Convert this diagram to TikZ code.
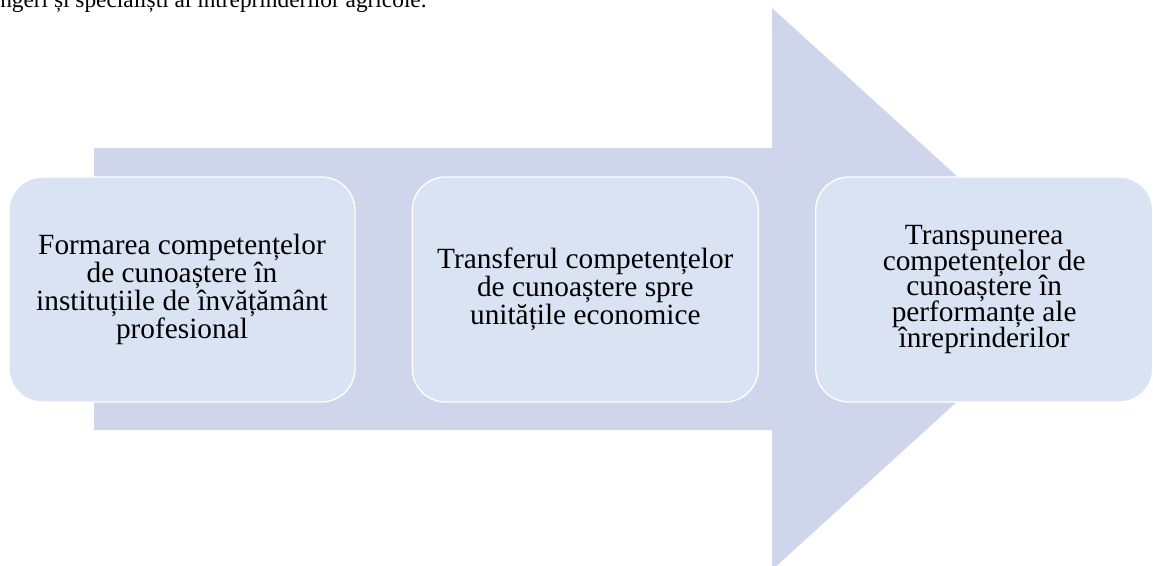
\documentclass[tikz,border=0pt]{standalone}
\usepackage{fontspec}
\setmainfont{Liberation Serif}
\usetikzlibrary{positioning,calc}
\definecolor{arrowfill}{RGB}{207,213,234}
\definecolor{boxfill}{RGB}{218,227,243}
\newcommand{\stagefont}[1]{\fontsize{22}{#1}\selectfont\lineskiplimit=-30pt\relax}
\tikzset{
	stagebox/.style={minimum width=259.5pt,minimum height=168.75pt,rounded corners=25pt,draw=white,line width=1pt,fill=boxfill,align=center,inner sep=0pt,font=\stagefont{21.2}},
}

\begin{document}
\begin{tikzpicture}[x=0.75pt,y=-0.75pt]
		\useasboundingbox (0,0) rectangle (1153,565);
		\node[anchor=base west,inner sep=0pt,font=\fontsize{17.5}{20}\selectfont] (prev) at (0,7) {ngeri și specialiști ai întreprinderilor agricole.};
		% big arrow behind the stages
		\coordinate (tail) at (94,289);
		\coordinate (tip) at (1081,289);
		\fill[arrowfill] ($(tail)+(0,-141)$) -- (772,148) -- (772,8) -- (tip) -- (772,570) -- (772,430) -- ($(tail)+(0,141)$) -- cycle;
		
		\node[stagebox] (form) at (182,289.5) {Formarea competențelor\\de cunoaștere în\\instituțiile de învățământ\\profesional};
		\node[stagebox,right=42pt of form] (transf) {Transferul competențelor\\de cunoaștere spre\\unitățile economice};
		\node[stagebox,minimum width=252.75pt,font=\stagefont{19.3},right=42pt of transf] (transp) {Transpunerea\\competențelor de\\cunoaștere în\\performanțe ale\\înreprinderilor};
	\end{tikzpicture}
\end{document}
